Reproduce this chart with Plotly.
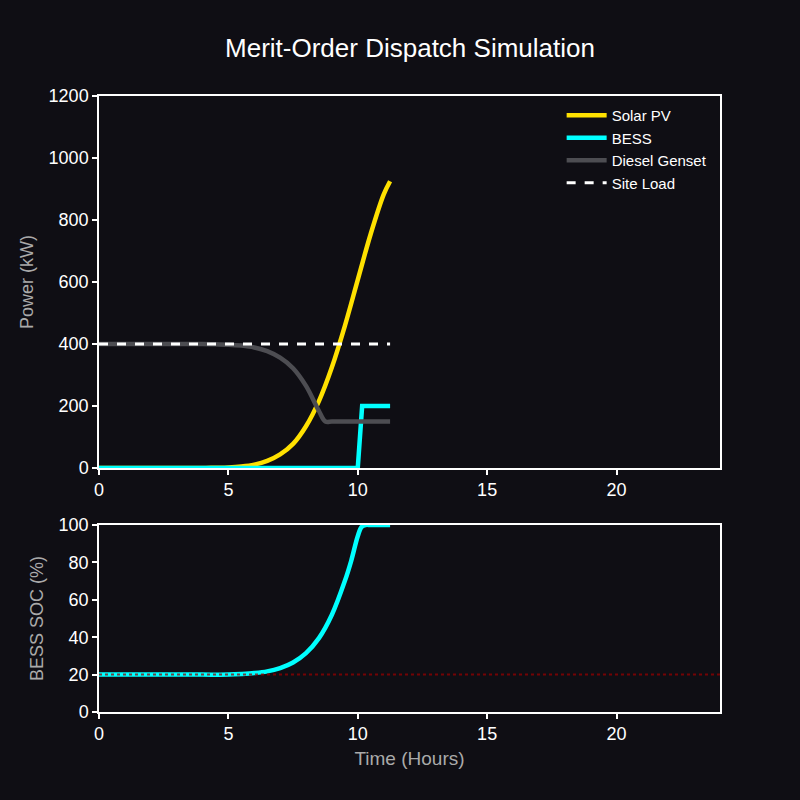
import plotly.graph_objects as go

# ---- data ----
t_solar = [0, 0.5, 1, 1.5, 2, 2.5, 3, 3.5, 4, 4.5, 5, 5.5, 6, 6.5, 7, 7.5, 8, 8.5, 9, 9.5, 10, 10.5, 11, 11.25]
solar_kw = [0, 0, 0, 0, 0, 0, 0, 0, 0, 1, 2, 5, 11, 23, 44, 78, 135, 216, 325, 458, 607, 755, 882, 925]

t_diesel = [0, 0.5, 1, 1.5, 2, 2.5, 3, 3.5, 4, 4.5, 5, 5.5, 6, 6.5, 7, 7.5, 8, 8.5, 8.75, 9, 9.5, 10, 10.5, 11, 11.25]
diesel_kw = [400, 400, 400, 400, 400, 400, 400, 400, 400, 399, 398, 395, 389, 377, 356, 322, 265, 184, 150, 150, 150, 150, 150, 150, 150]

t_bess = [0, 2, 4, 6, 8, 9, 10.0, 10.17, 10.5, 11, 11.25]
bess_kw = [0, 0, 0, 0, 0, 0, 0, 200, 200, 200, 200]

t_load = [0, 2, 4, 6, 8, 10, 11.25]
load_kw = [400, 400, 400, 400, 400, 400, 400]

t_soc = [0, 1, 2, 3, 4, 5, 5.5, 6, 6.5, 7, 7.5, 8, 8.5, 9, 9.5, 9.75, 10, 10.15, 10.3, 10.5, 11, 11.25]
soc_pct = [20, 20, 20, 20, 20, 20, 20.3, 20.8, 21.7, 23.5, 26.5, 31.5, 39.5, 52, 70, 81, 94, 99, 100, 100, 100, 100]

SOC_MIN = 20

x_ticks = [0, 5, 10, 15, 20]
power_ticks = [0, 200, 400, 600, 800, 1000, 1200]
soc_ticks = [0, 20, 40, 60, 80, 100]

BG = "#0f0e14"
FONT = "Liberation Sans, Arial, sans-serif"

fig = go.Figure()
fig.add_trace(go.Scatter(x=t_solar, y=solar_kw, mode="lines", name="Solar PV",
                         line=dict(color="#ffe100", width=4.5, shape="spline"), xaxis="x", yaxis="y"))
fig.add_trace(go.Scatter(x=t_bess, y=bess_kw, mode="lines", name="BESS",
                         line=dict(color="#00ffff", width=4.5), xaxis="x", yaxis="y"))
fig.add_trace(go.Scatter(x=t_diesel, y=diesel_kw, mode="lines", name="Diesel Genset",
                         line=dict(color="#4d4d52", width=4.5, shape="spline"), xaxis="x", yaxis="y"))
fig.add_trace(go.Scatter(x=t_load, y=load_kw, mode="lines", name="Site Load",
                         line=dict(color="#ffffff", width=3, dash="dash"), xaxis="x", yaxis="y"))
fig.add_trace(go.Scatter(x=t_soc, y=soc_pct, mode="lines", name="SOC", showlegend=False,
                         line=dict(color="#00ffff", width=4.5, shape="spline"), xaxis="x2", yaxis="y2"))

fig.add_shape(type="line", xref="x2 domain", yref="y2", x0=0, x1=1, y0=SOC_MIN, y1=SOC_MIN,
              line=dict(color="rgba(150,0,0,0.75)", width=2, dash="dot"), layer="above")

axis_common = dict(showgrid=False, zeroline=False, showline=True, linecolor="#ffffff", linewidth=1.5,
                   mirror=True, ticks="outside", ticklen=5, tickwidth=1.5, tickcolor="#ffffff",
                   tickfont=dict(color="#ffffff", size=18, family=FONT))

fig.update_layout(
    width=800, height=800,
    paper_bgcolor=BG, plot_bgcolor=BG,
    margin=dict(l=99, r=80, t=96, b=88),
    font=dict(family=FONT, color="#ffffff"),
    title=dict(text="Merit-Order Dispatch Simulation", x=0.5125, xanchor="center", y=0.94, yanchor="middle",
               font=dict(size=26, color="#ffffff", family=FONT)),
    xaxis=dict(domain=[0, 1], range=[0, 24], tickvals=x_ticks, anchor="y", **axis_common),
    yaxis=dict(domain=[0.396, 1], range=[0, 1200], tickvals=power_ticks, anchor="x",
               title=dict(text="Power (kW)", font=dict(color="#aaaaaa", size=18, family=FONT), standoff=10),
               **axis_common),
    xaxis2=dict(domain=[0, 1], range=[0, 24], tickvals=x_ticks, anchor="y2",
                title=dict(text="Time (Hours)", font=dict(color="#aaaaaa", size=19, family=FONT), standoff=8),
                **axis_common),
    yaxis2=dict(domain=[0, 0.3036], range=[0, 100], tickvals=soc_ticks, anchor="x2",
                title=dict(text="BESS SOC (%)", font=dict(color="#aaaaaa", size=18, family=FONT), standoff=10),
                **axis_common),
    legend=dict(x=0.745, y=0.995, xanchor="left", yanchor="top", bgcolor="rgba(0,0,0,0)",
                font=dict(size=15, color="#ffffff", family=FONT), tracegroupgap=0, itemwidth=40),
    showlegend=True,
)

fig.write_html("out.html")
